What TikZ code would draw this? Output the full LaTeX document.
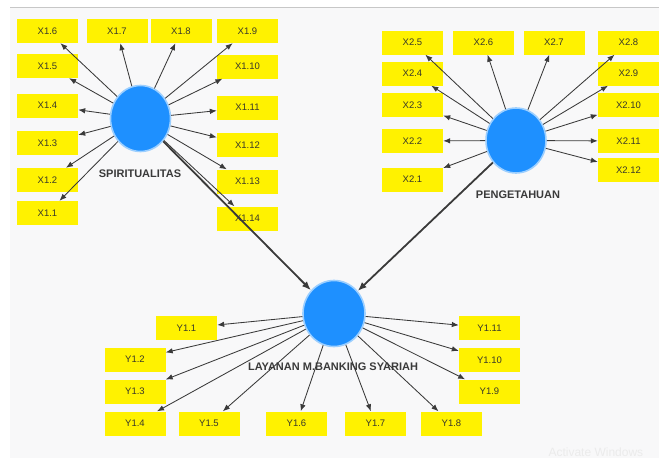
\documentclass[tikz,border=0pt]{standalone}
\usepackage{fontspec}
\setmainfont{Liberation Sans}
\usetikzlibrary{shapes.geometric,arrows.meta}
\definecolor{bgc}{HTML}{F8F8F9}
\definecolor{lv}{RGB}{30,144,255}
\definecolor{halo}{HTML}{9CCFFF}
\definecolor{ink}{HTML}{3A3A3A}
\definecolor{boxtext}{HTML}{38382A}
\tikzset{
  ind/.style={rectangle, fill=yellow, minimum width=61pt, minimum height=24pt, inner sep=0pt,
    font=\fontsize{9.5}{10}\selectfont, text=boxtext},
  latent/.style={ellipse, fill=lv, draw=halo, line width=1.6pt, inner sep=0pt},
  lvlabel/.style={font=\fontsize{11}{12}\selectfont\bfseries, text=ink},
  load/.style={draw=ink, line width=0.85pt, -{Latex[length=7pt,width=5.5pt]}},
  path/.style={draw=ink, line width=1.8pt, -{Latex[length=9pt,width=7pt]}}
}
\begin{document}
\begin{tikzpicture}[x=1pt,y=-1pt]
\useasboundingbox (0,0) rectangle (659,458);
\fill[white] (0,0) rectangle (659,458);
\fill[bgc] (10,8) rectangle (659,458);
\draw[color=black!22, line width=1.5pt] (10,7.5) -- (659,7.5);
\node[text=black!8, font=\fontsize{12}{13}\selectfont, anchor=west] (wm) at (545,452) {Activate Windows};

% latent variables
\node[latent, minimum width=60pt, minimum height=66pt] (S) at (140.5,118.5) {};
\node[latent, minimum width=60pt, minimum height=65pt] (P) at (516,140.5) {};
\node[latent, minimum width=62pt, minimum height=66pt] (L) at (334,313.5) {};
\node[lvlabel] (Slab) at (140,174) {SPIRITUALITAS};
\node[lvlabel] (Plab) at (518,195) {PENGETAHUAN};
\node[lvlabel] (Llab) at (333,367) {LAYANAN M.BANKING SYARIAH};

% X1 indicators
\node[ind] (x16) at (47.5,31) {X1.6};
\node[ind] (x17) at (117,31) {X1.7};
\node[ind] (x18) at (181,31) {X1.8};
\node[ind] (x19) at (247.5,31) {X1.9};
\node[ind] (x15) at (47.5,66) {X1.5};
\node[ind] (x110) at (247.5,66.5) {X1.10};
\node[ind] (x14) at (47.5,105.5) {X1.4};
\node[ind] (x111) at (247.5,107.5) {X1.11};
\node[ind] (x13) at (47.5,143) {X1.3};
\node[ind] (x112) at (247.5,145) {X1.12};
\node[ind] (x12) at (47.5,180) {X1.2};
\node[ind] (x113) at (247.5,181.5) {X1.13};
\node[ind] (x11) at (47.5,213) {X1.1};
\node[ind] (x114) at (247.5,218.5) {X1.14};

% X2 indicators
\node[ind] (x25) at (412.5,42.5) {X2.5};
\node[ind] (x26) at (483.5,42.5) {X2.6};
\node[ind] (x27) at (554,42.5) {X2.7};
\node[ind] (x28) at (628.5,42.5) {X2.8};
\node[ind] (x24) at (412.5,73.5) {X2.4};
\node[ind] (x29) at (628.5,73.5) {X2.9};
\node[ind] (x23) at (412.5,105) {X2.3};
\node[ind] (x210) at (628.5,105) {X2.10};
\node[ind] (x22) at (412.5,141) {X2.2};
\node[ind] (x211) at (628.5,141) {X2.11};
\node[ind] (x21) at (412.5,179.5) {X2.1};
\node[ind] (x212) at (628.5,170) {X2.12};

% Y1 indicators
\node[ind] (y11) at (186.5,328) {Y1.1};
\node[ind] (y12) at (135,359.5) {Y1.2};
\node[ind] (y13) at (135,391.5) {Y1.3};
\node[ind] (y14) at (135,423.5) {Y1.4};
\node[ind] (y15) at (209,423.5) {Y1.5};
\node[ind] (y16) at (296.5,423.5) {Y1.6};
\node[ind] (y17) at (375.5,423.5) {Y1.7};
\node[ind] (y18) at (451.5,423.5) {Y1.8};
\node[ind] (y19) at (489.5,391.5) {Y1.9};
\node[ind] (y110) at (489.5,360) {Y1.10};
\node[ind] (y111) at (489.5,328) {Y1.11};

% loadings
\foreach \t in {x11,x12,x13,x14,x15,x16,x17,x18,x19,x110,x111,x112,x113,x114}
  \draw[load] (S) -- (\t);
\foreach \t in {x21,x22,x23,x24,x25,x26,x27,x28,x29,x210,x211,x212}
  \draw[load] (P) -- (\t);
\foreach \t in {y11,y12,y13,y14,y15,y16,y17,y18,y19,y110,y111}
  \draw[load] (L) -- (\t);

% structural paths
\draw[path] (S) -- (L);
\draw[path] (P) -- (L);
\end{tikzpicture}
\end{document}
